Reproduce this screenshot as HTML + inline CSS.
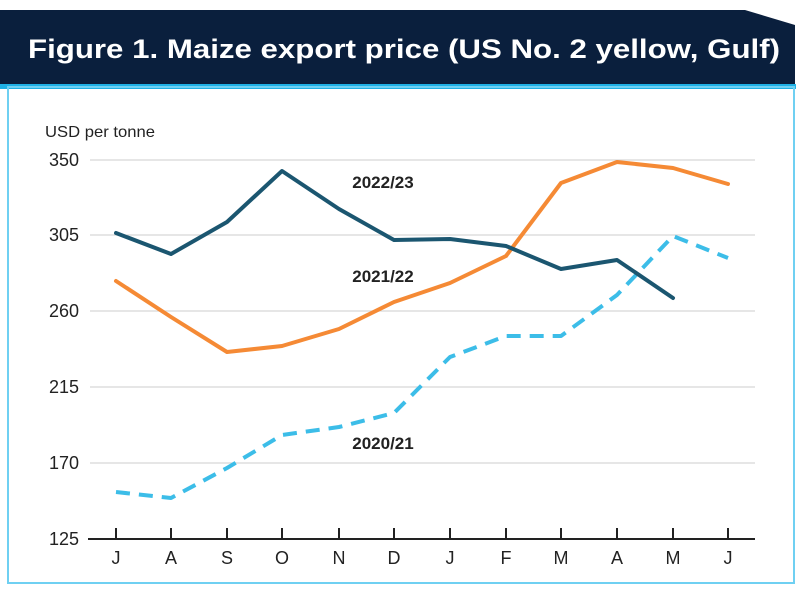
<!DOCTYPE html>
<html><head><meta charset="utf-8"><style>
html,body{margin:0;padding:0;background:#fff;}
svg{display:block;font-family:"Liberation Sans",sans-serif;}
</style></head><body>
<svg width="800" height="589" viewBox="0 0 800 589" xmlns="http://www.w3.org/2000/svg">
<rect width="800" height="589" fill="#fff"/>
<polygon points="0,10 745,10 795,25 795,86 0,86" fill="#0a1f3d"/>
<rect x="0" y="84" width="796" height="5" fill="#1eb1e6"/>
<rect x="8" y="87" width="786" height="496" fill="none" stroke="#6fd0f2" stroke-width="2"/>
<text x="28" y="58" fill="#fff" font-size="27" font-weight="bold" textLength="752" lengthAdjust="spacingAndGlyphs">Figure 1. Maize export price (US No. 2 yellow, Gulf)</text>
<text x="45" y="137" fill="#222" font-size="16" textLength="110" lengthAdjust="spacingAndGlyphs">USD per tonne</text>
<g stroke="#d8d8d8" stroke-width="1.2">
<line x1="90" y1="160" x2="755" y2="160"/><line x1="90" y1="235" x2="755" y2="235"/>
<line x1="90" y1="311" x2="755" y2="311"/><line x1="90" y1="387" x2="755" y2="387"/>
<line x1="90" y1="463" x2="755" y2="463"/>
</g>
<line x1="88" y1="539" x2="755" y2="539" stroke="#222" stroke-width="2"/>
<g stroke="#222" stroke-width="2">
<line x1="116" y1="528" x2="116" y2="539"/><line x1="171" y1="528" x2="171" y2="539"/><line x1="227" y1="528" x2="227" y2="539"/><line x1="282" y1="528" x2="282" y2="539"/><line x1="339" y1="528" x2="339" y2="539"/><line x1="394" y1="528" x2="394" y2="539"/><line x1="450" y1="528" x2="450" y2="539"/><line x1="506" y1="528" x2="506" y2="539"/><line x1="561" y1="528" x2="561" y2="539"/><line x1="617" y1="528" x2="617" y2="539"/><line x1="673" y1="528" x2="673" y2="539"/><line x1="728" y1="528" x2="728" y2="539"/>
</g>
<g fill="#222" font-size="18" text-anchor="end">
<text x="79" y="166">350</text><text x="79" y="241">305</text><text x="79" y="317">260</text><text x="79" y="393">215</text><text x="79" y="469">170</text><text x="79" y="545">125</text>
</g>
<g fill="#222" font-size="18" text-anchor="middle">
<text x="116" y="564">J</text><text x="171" y="564">A</text><text x="227" y="564">S</text><text x="282" y="564">O</text><text x="339" y="564">N</text><text x="394" y="564">D</text><text x="450" y="564">J</text><text x="506" y="564">F</text><text x="561" y="564">M</text><text x="617" y="564">A</text><text x="673" y="564">M</text><text x="728" y="564">J</text>
</g>
<g fill="none" stroke-width="4" stroke-linejoin="round" stroke-linecap="round">
<polyline stroke="#3cbde8" stroke-dasharray="14,9" stroke-linecap="butt" points="116,492 171,498 227,468 282,435 339,427 394,413 450,357 506,336 561,336 617,295 673,236 728,258"/>
<polyline stroke="#f58a35" points="116,281 171,317 227,352 282,346 339,329 394,302 450,283 506,256 561,183 617,162 673,168 728,184"/>
<polyline stroke="#1b5670" points="116,233 171,254 227,222 282,171 339,209 394,240 450,239 506,246 561,269 617,260 673,298"/>
</g>
<g fill="#222" font-size="17" font-weight="bold" text-anchor="middle">
<text x="383" y="188">2022/23</text><text x="383" y="282">2021/22</text><text x="383" y="449">2020/21</text>
</g>
</svg>
</body></html>
